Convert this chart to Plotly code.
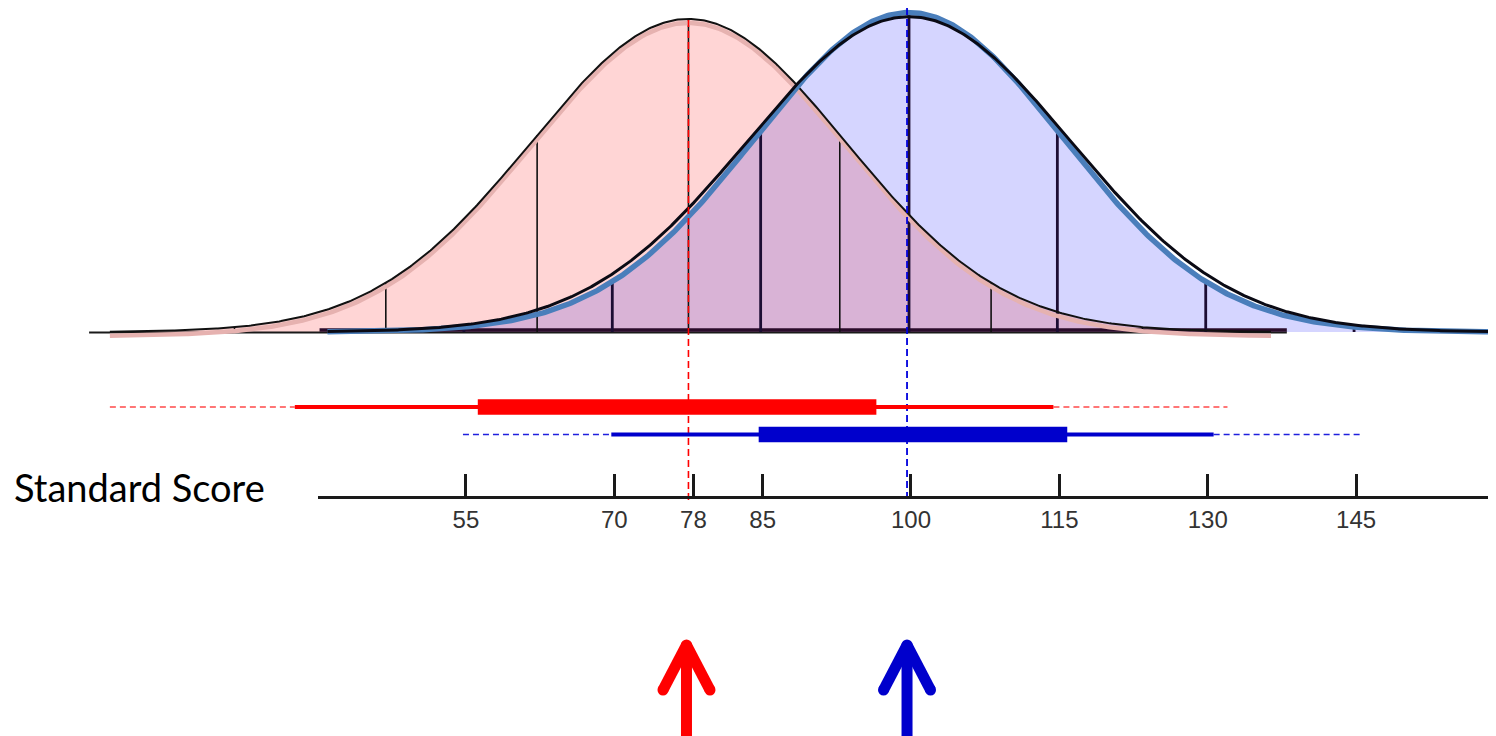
import numpy as np
import plotly.graph_objects as go

# ---------------- data ----------------
red_mean, red_sd = 77.5, 15.3          # centre and spacing of the red SD markers
blue_mean, blue_sd = 99.8, 15.0        # centre and spacing of the blue SD markers
red_peak, blue_peak = 0.98, 1.00       # relative peak heights
red_shape_sd, blue_shape_sd = 15.9, 15.6   # width of the drawn bell shapes
red_span = [19.0, 136.4]
blue_span = [41.0, 159.15]
sd_steps = [-3, -2, -1, 0, 1, 2, 3]

red_band_outer = [19.0, 132.0]
red_band_mid = [37.7, 114.4]
red_band_inner = [56.2, 96.5]
blue_band_outer = [54.7, 145.6]
blue_band_mid = [69.7, 130.6]
blue_band_inner = [84.6, 115.8]

tick_vals = [40, 55, 70, 78, 85, 100, 115, 130, 145]
tick_text = ["", "55", "70", "78", "85", "100", "115", "130", "145"]
axis_label = "Standard Score"

# ---------------- layout helpers ----------------
PAGE_W, PAGE_H = 1496, 736
OFF = 8                      # default page margin around the figure div
W, H = PAGE_W - OFF, PAGE_H - OFF
X_RANGE = [8.70, 159.15]
BASE_PX = 332.0              # page row of the curve baseline
UNIT_PX = 319.5


def yv(py):
    """page pixel row -> y value of the plot axis"""
    return (BASE_PX - py) / UNIT_PX


def ypaper(py):
    return 1 - (py - OFF) / H


def xpaper(px):
    return (px - OFF) / W


Y_RANGE = [yv(PAGE_H), yv(OFF)]
PX_PER_X = W / (X_RANGE[1] - X_RANGE[0])


def bell(x, m, s, peak):
    return peak * np.exp(-0.5 * ((x - m) / s) ** 2)


def red_curve(x):
    return bell(x, red_mean, red_shape_sd, red_peak)


def blue_curve(x):
    return bell(x, blue_mean, blue_shape_sd, blue_peak)


xr = np.linspace(red_span[0], red_span[1], 700)
xb = np.linspace(blue_span[0], blue_span[1], 700)
xo = np.linspace(max(red_span[0], blue_span[0]), min(red_span[1], blue_span[1]), 700)
yr = red_curve(xr)
yb = blue_curve(xb)
yo = np.minimum(red_curve(xo), blue_curve(xo))

fig = go.Figure()


def line(x, y, color, width, dash=None, fill=None, fillcolor=None):
    fig.add_trace(go.Scatter(
        x=x, y=y, mode="lines", fill=fill, fillcolor=fillcolor,
        line=dict(color=color, width=width, dash=dash),
        hoverinfo="skip", showlegend=False))


# fills
line(xr, yr, "rgba(0,0,0,0)", 0, fill="tozeroy", fillcolor="#FFD5D5")
line(xb, yb, "rgba(0,0,0,0)", 0, fill="tozeroy", fillcolor="#D5D5FF")
line(xo, yo, "rgba(0,0,0,0)", 0, fill="tozeroy", fillcolor="#D9B3D6")

# baselines
line([16.9, 138.0], [yv(332.5)] * 2, "#1a1a1a", 2)
line([40.2, 138.0], [yv(330.0)] * 2, "#2b0c2b", 3.5)


# standard deviation markers
def sd_lines(m, s, fn, color, width):
    xs, ys = [], []
    for k in sd_steps:
        v = m + k * s
        xs += [v, v, None]
        ys += [0, float(fn(np.array(v))), None]
    line(xs, ys, color, width)


sd_lines(red_mean, red_sd, red_curve, "#111111", 1.6)
sd_lines(blue_mean, blue_sd, blue_curve, "#1c0d33", 2.8)

# curve outlines
line(xr, yr - 4.0 / UNIT_PX, "#E6B2B0", 4.5)
line(xr, yr, "#111111", 2)
line(xb, yb, "#4A7EBB", 5.5)
line(xb, bell(xb, blue_mean, blue_shape_sd * 1.045, blue_peak * 0.987), "#0a0a14", 3)

# dashed mean lines
line([red_mean, red_mean], [yv(20), yv(502)], "#FF0000", 1.6, dash="7px,4px")
line([blue_mean - 0.2, blue_mean - 0.2], [yv(8), yv(500)], "#0000DD", 1.8, dash="7px,4px")


# interval bands
def band(outer, mid, inner, py, color, dcolor):
    y = [yv(py)] * 2
    line([outer[0], mid[0]], y, dcolor, 1.5, dash="6px,4px")
    line([mid[1], outer[1]], y, dcolor, 1.5, dash="6px,4px")
    line(mid, y, color, 3.8)
    line(inner, y, color, 15.7)


band(red_band_outer, red_band_mid, red_band_inner, 407, "#FF0000", "#FF4A4A")
band(blue_band_outer, blue_band_mid, blue_band_inner, 434.5, "#0000CC", "#2020DD")


# arrows pointing at the means
def arrow(m, color):
    dx = 23.5 / PX_PER_X
    tip, head, bottom = yv(645), yv(690), yv(760)
    xs = [m, m - dx, None, m, m + dx, None, m, m]
    ys = [tip, head, None, tip, head, None, tip, bottom]
    line(xs, ys, color, 11)
    fig.add_trace(go.Scatter(
        x=[m - dx, m, m + dx], y=[head, tip, head], mode="markers",
        marker=dict(size=11, color=color, line=dict(width=0)),
        hoverinfo="skip", showlegend=False))


arrow(red_mean - 0.2, "#FF0000")
arrow(blue_mean - 0.2, "#0000CC")

# the score axis: its own x axis, same scale as the plot, starting at 40
dom0 = (tick_vals[0] - X_RANGE[0]) / (X_RANGE[1] - X_RANGE[0])
fig.add_trace(go.Scatter(
    x=[tick_vals[0], tick_vals[-1]], y=[None, None], xaxis="x2", yaxis="y",
    mode="markers", marker=dict(opacity=0), hoverinfo="skip", showlegend=False))

fig.update_layout(
    width=W, height=H,
    margin=dict(l=0, r=0, t=0, b=0),
    paper_bgcolor="white", plot_bgcolor="rgba(0,0,0,0)",
    showlegend=False, hovermode=False,
    xaxis=dict(range=X_RANGE, domain=[0, 1], visible=False, fixedrange=True),
    yaxis=dict(range=Y_RANGE, visible=False, fixedrange=True),
    xaxis2=dict(
        anchor="free", position=ypaper(497),
        domain=[dom0, 1], range=[tick_vals[0], X_RANGE[1]],
        showline=True, linecolor="#1a1a1a", linewidth=3,
        showgrid=False, zeroline=False,
        tickmode="array", tickvals=tick_vals, ticktext=tick_text,
        ticks="inside", ticklen=22, tickwidth=3, tickcolor="#1a1a1a",
        tickfont=dict(family="Liberation Sans, Arial", size=24, color="#333333"),
        ticklabelstandoff=0,
        side="bottom", fixedrange=True,
    ),
    annotations=[dict(
        text=axis_label, xref="paper", yref="paper",
        x=xpaper(12), y=ypaper(487), xanchor="left", yanchor="middle",
        showarrow=False, font=dict(family="Lato", size=38, color="black"))],
)

fig.write_html("out.html")
